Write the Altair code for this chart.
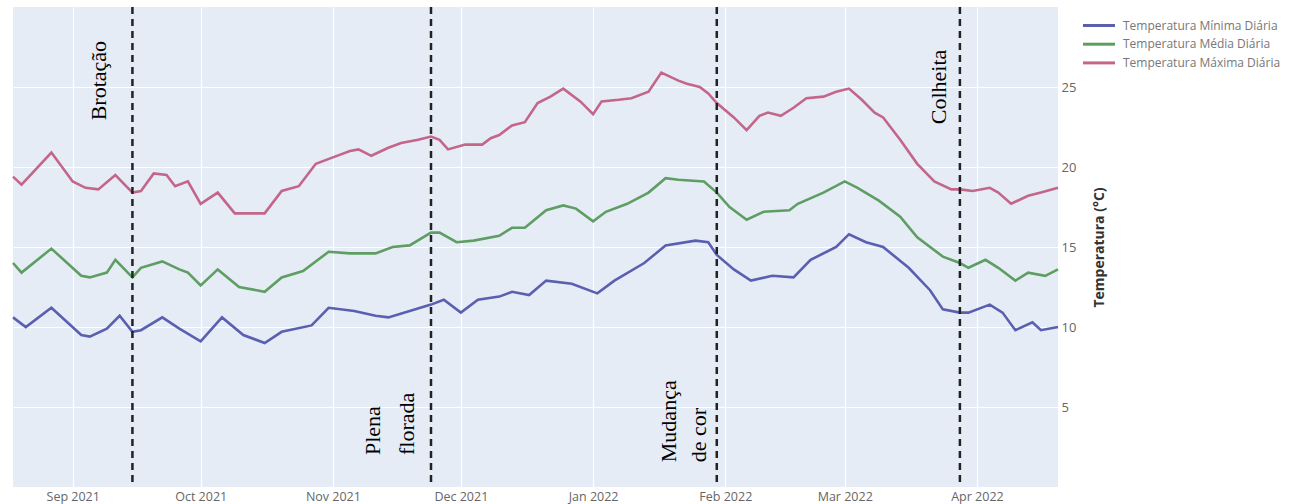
import altair as alt
import pandas as pd

# ---------------- data ----------------
series_names = ["Temperatura Mínima Diária", "Temperatura Média Diária", "Temperatura Máxima Diária"]
series_colors = ["#5b5fb0", "#5e9e63", "#c4668a"]

max_dates = ["2021-08-18", "2021-08-20", "2021-08-27", "2021-09-01", "2021-09-04", "2021-09-07",
             "2021-09-11", "2021-09-15", "2021-09-17", "2021-09-20", "2021-09-23", "2021-09-25",
             "2021-09-28", "2021-10-01", "2021-10-05", "2021-10-09", "2021-10-16", "2021-10-20",
             "2021-10-24", "2021-10-28", "2021-11-01", "2021-11-05", "2021-11-07", "2021-11-10",
             "2021-11-14", "2021-11-17", "2021-11-21", "2021-11-24", "2021-11-26", "2021-11-28",
             "2021-12-02", "2021-12-06", "2021-12-08", "2021-12-10", "2021-12-13", "2021-12-16",
             "2021-12-19", "2021-12-22", "2021-12-25", "2021-12-29", "2022-01-01", "2022-01-03",
             "2022-01-07", "2022-01-10", "2022-01-14", "2022-01-17", "2022-01-21", "2022-01-23",
             "2022-01-26", "2022-01-28", "2022-01-30", "2022-02-03", "2022-02-06", "2022-02-09",
             "2022-02-11", "2022-02-14", "2022-02-17", "2022-02-20", "2022-02-24", "2022-02-27",
             "2022-03-02", "2022-03-05", "2022-03-08", "2022-03-10", "2022-03-14", "2022-03-18",
             "2022-03-22", "2022-03-26", "2022-03-28", "2022-03-31", "2022-04-04", "2022-04-06",
             "2022-04-09", "2022-04-13", "2022-04-16", "2022-04-20"]
max_vals = [19.4, 18.9, 20.9, 19.1, 18.7, 18.6,
            19.5, 18.4, 18.5, 19.6, 19.5, 18.8,
            19.1, 17.7, 18.4, 17.1, 17.1, 18.5,
            18.8, 20.2, 20.6, 21.0, 21.1, 20.7,
            21.2, 21.5, 21.7, 21.9, 21.7, 21.1,
            21.4, 21.4, 21.8, 22.0, 22.6, 22.8,
            24.0, 24.4, 24.9, 24.1, 23.3, 24.1,
            24.2, 24.3, 24.7, 25.9, 25.4, 25.2,
            25.0, 24.6, 24.0, 23.1, 22.3, 23.2,
            23.4, 23.2, 23.7, 24.3, 24.4, 24.7,
            24.9, 24.2, 23.4, 23.1, 21.7, 20.2,
            19.1, 18.6, 18.6, 18.5, 18.7, 18.4,
            17.7, 18.2, 18.4, 18.7]

mean_dates = ["2021-08-18", "2021-08-20", "2021-08-27", "2021-09-03", "2021-09-05", "2021-09-09",
              "2021-09-11", "2021-09-15", "2021-09-17", "2021-09-22", "2021-09-26", "2021-09-28",
              "2021-10-01", "2021-10-05", "2021-10-10", "2021-10-16", "2021-10-20", "2021-10-25",
              "2021-10-31", "2021-11-05", "2021-11-11", "2021-11-15", "2021-11-19", "2021-11-24",
              "2021-11-26", "2021-11-30", "2021-12-04", "2021-12-10", "2021-12-13", "2021-12-16",
              "2021-12-21", "2021-12-25", "2021-12-28", "2022-01-01", "2022-01-04", "2022-01-09",
              "2022-01-14", "2022-01-18", "2022-01-21", "2022-01-27", "2022-01-30", "2022-02-02",
              "2022-02-06", "2022-02-10", "2022-02-16", "2022-02-18", "2022-02-24", "2022-03-01",
              "2022-03-04", "2022-03-09", "2022-03-14", "2022-03-18", "2022-03-24", "2022-03-28",
              "2022-03-30", "2022-04-03", "2022-04-06", "2022-04-10", "2022-04-13", "2022-04-17",
              "2022-04-20"]
mean_vals = [14.0, 13.4, 14.9, 13.2, 13.1, 13.4,
             14.2, 13.1, 13.7, 14.1, 13.6, 13.4,
             12.6, 13.6, 12.5, 12.2, 13.1, 13.5,
             14.7, 14.6, 14.6, 15.0, 15.1, 15.9,
             15.9, 15.3, 15.4, 15.7, 16.2, 16.2,
             17.3, 17.6, 17.4, 16.6, 17.2, 17.7,
             18.4, 19.3, 19.2, 19.1, 18.4, 17.5,
             16.7, 17.2, 17.3, 17.7, 18.4, 19.1,
             18.7, 17.9, 16.9, 15.6, 14.4, 14.0,
             13.7, 14.2, 13.7, 12.9, 13.4, 13.2,
             13.6]

min_dates = ["2021-08-18", "2021-08-21", "2021-08-27", "2021-09-03", "2021-09-05", "2021-09-09",
             "2021-09-12", "2021-09-15", "2021-09-17", "2021-09-22", "2021-09-26", "2021-10-01",
             "2021-10-06", "2021-10-11", "2021-10-16", "2021-10-20", "2021-10-27", "2021-10-31",
             "2021-11-06", "2021-11-11", "2021-11-14", "2021-11-19", "2021-11-24", "2021-11-27",
             "2021-12-01", "2021-12-05", "2021-12-10", "2021-12-13", "2021-12-17", "2021-12-21",
             "2021-12-27", "2022-01-02", "2022-01-06", "2022-01-13", "2022-01-18", "2022-01-25",
             "2022-01-28", "2022-01-30", "2022-02-03", "2022-02-07", "2022-02-12", "2022-02-17",
             "2022-02-21", "2022-02-27", "2022-03-02", "2022-03-06", "2022-03-10", "2022-03-16",
             "2022-03-21", "2022-03-24", "2022-03-28", "2022-03-30", "2022-04-04", "2022-04-07",
             "2022-04-10", "2022-04-14", "2022-04-16", "2022-04-20"]
min_vals = [10.6, 10.0, 11.2, 9.5, 9.4, 9.9,
            10.7, 9.7, 9.8, 10.6, 9.9, 9.1,
            10.6, 9.5, 9.0, 9.7, 10.1, 11.2,
            11.0, 10.7, 10.6, 11.0, 11.4, 11.7,
            10.9, 11.7, 11.9, 12.2, 12.0, 12.9,
            12.7, 12.1, 12.9, 14.0, 15.1, 15.4,
            15.3, 14.5, 13.6, 12.9, 13.2, 13.1,
            14.2, 15.0, 15.8, 15.3, 15.0, 13.7,
            12.3, 11.1, 10.9, 10.9, 11.4, 10.9,
            9.8, 10.3, 9.8, 10.0]

event_dates = ["2021-09-15", "2021-11-24", "2022-01-30", "2022-03-28"]
event_labels = ["Brotação", "Plena\nflorada", "Mudança\nde cor", "Colheita"]
event_label_temps = [25.4, 2.0, 1.55, 25.0]

y_ticks = [5, 10, 15, 20, 25]

# ---------------- tables ----------------
frames = []
for name, d, v in [(series_names[0], min_dates, min_vals),
                   (series_names[1], mean_dates, mean_vals),
                   (series_names[2], max_dates, max_vals)]:
    frames.append(pd.DataFrame({"date": pd.to_datetime(d), "value": v, "serie": name}))
df = pd.concat(frames, ignore_index=True)

events = pd.DataFrame({"date": pd.to_datetime(event_dates), "label": event_labels,
                       "value": event_label_temps})

x_scale = alt.Scale(domain=[alt.DateTime(year=2021, month=8, date=18),
                            alt.DateTime(year=2022, month=4, date=20)], nice=False)
y_scale = alt.Scale(domain=[0, 30], nice=False)

lines = alt.Chart(df).mark_line(strokeWidth=2.6).encode(
    x=alt.X("date:T", scale=x_scale, title=None,
            axis=alt.Axis(format="%b %Y", tickCount={"interval": "month", "step": 1},
                          grid=True, gridColor="white", gridWidth=1.2, domain=False, ticks=False,
                          labelFont="Open Sans", labelFontSize=12.5, labelColor="#666",
                          labelPadding=3, labelFlush=False)),
    y=alt.Y("value:Q", scale=y_scale, title="Temperatura (°C)",
            axis=alt.Axis(orient="right", values=y_ticks, grid=True, gridColor="white",
                          gridWidth=1.2, domain=False, ticks=False,
                          labelFont="Open Sans", labelFontSize=13, labelColor="#666",
                          labelPadding=3,
                          titleFont="Open Sans", titleFontSize=14, titleFontWeight="bold",
                          titleColor="#333", titleAngle=270, titleX=41, titleY=240,
                          titleAlign="center", titleBaseline="middle")),
    color=alt.Color("serie:N", scale=alt.Scale(domain=series_names, range=series_colors),
                    legend=alt.Legend(title=None, orient="none", legendX=1076.5, legendY=9,
                                      symbolType="M-2,0L2,0", symbolSize=256,
                                      symbolStrokeWidth=3, labelFont="Open Sans",
                                      labelFontSize=12, labelColor="#777", labelOffset=14.5,
                                      rowPadding=2.7, padding=0)),
)

rules = alt.Chart(events).mark_rule(strokeDash=[7, 5], strokeWidth=2.5, color="#222").encode(
    x=alt.X("date:T", scale=x_scale, title=None)
)

text_style = dict(angle=270, font="Liberation Serif", fontSize=22, color="black",
                  lineBreak="\n", baseline="middle")

def label_layer(i, align, dy, line_height=30):
    sub = events.iloc[[i]]
    return alt.Chart(sub).mark_text(align=align, dy=dy, lineHeight=line_height,
                                    **text_style).encode(
        x=alt.X("date:T", scale=x_scale),
        y=alt.Y("value:Q", scale=y_scale),
        text="label:N",
    )

labels = [
    label_layer(0, "center", -33),
    label_layer(1, "left", -58, 34),
    label_layer(2, "left", -48, 30),
    label_layer(3, "center", -21),
]

chart = alt.layer(lines, rules, *labels).properties(
    width=1045, height=480,
    autosize=alt.AutoSizeParams(type="none"),
    padding={"left": 13, "top": 7, "right": 247, "bottom": 17},
    background="white",
).configure_view(fill="#E5ECF6", strokeWidth=0)

chart.save("out.html", embed_options={"renderer": "svg", "actions": False})
